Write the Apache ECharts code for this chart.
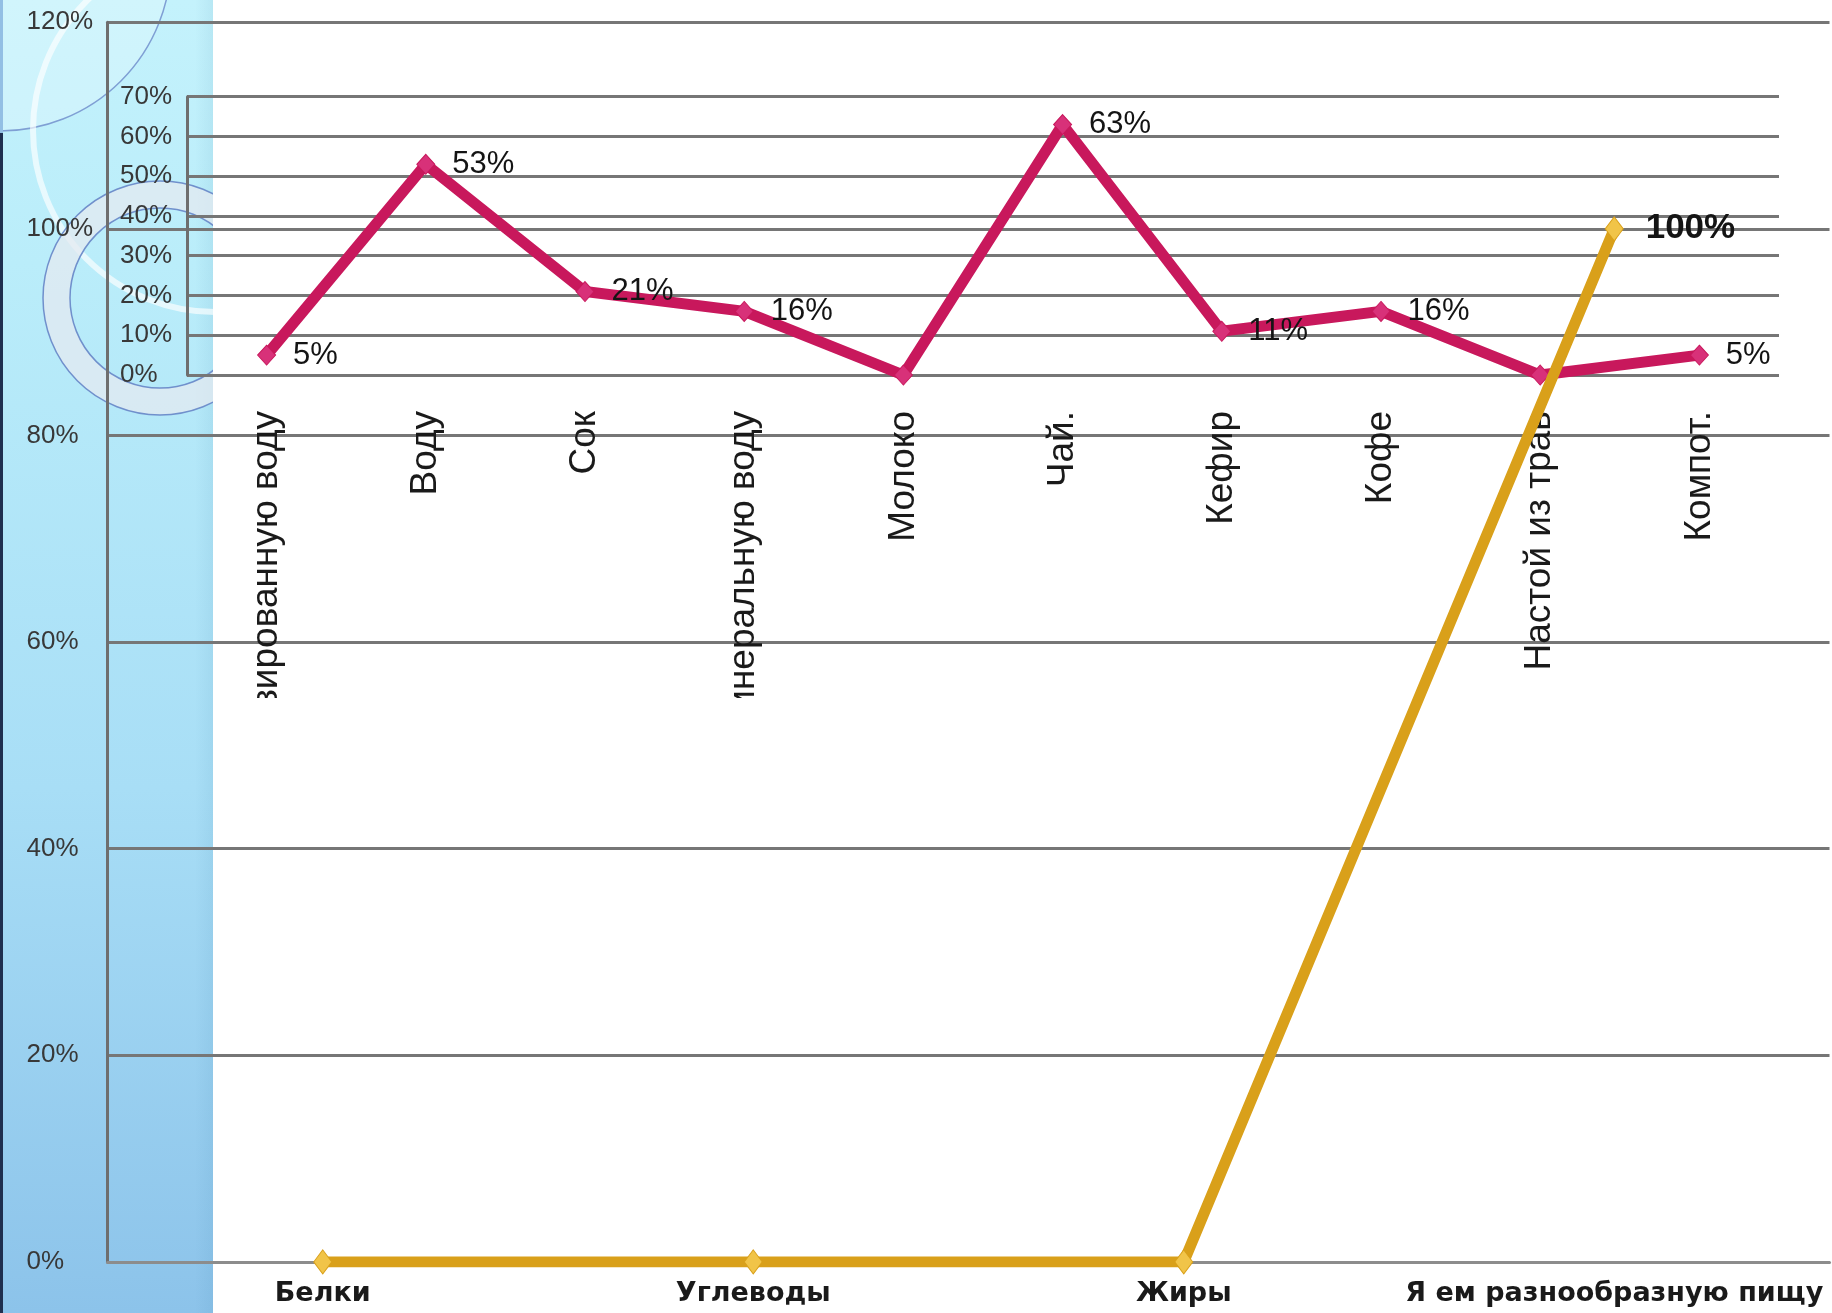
<!DOCTYPE html>
<html><head><meta charset="utf-8">
<script src="https://cdn.jsdelivr.net/npm/echarts@6/dist/echarts.min.js"></script>
<style>html,body{margin:0;padding:0;background:#fff}#c{width:1832px;height:1313px}</style>
</head><body><div id="c"></div>
<script>
// Background chart (food)
const foodCategories = ['Белки', 'Углеводы', 'Жиры', 'Я ем разнообразную пищу'];
const foodValues = [0, 0, 0, 100];
const foodTickMax = 120;
const foodTickStep = 20;
// Overlay chart (drinks)
const drinkCategories = ['Газированную воду', 'Воду', 'Сок', 'Минеральную воду', 'Молоко', 'Чай.', 'Кефир', 'Кофе', 'Настой из трав', 'Компот.'];
const drinkValues = [5, 53, 21, 16, 0, 63, 11, 16, 0, 5];
const drinkTickMax = 70;
const drinkTickStep = 10;

const GRID_COLOR = '#767676';
const chart = echarts.init(document.getElementById('c'), null, {renderer: 'canvas'});
const pct = v => v + '%';

chart.setOption({
  animation: false,
  backgroundColor: '#ffffff',
  graphic: [
    {type: 'rect', z: -20, shape: {x: 0, y: 0, width: 213, height: 1313},
     style: {fill: new echarts.graphic.LinearGradient(0, 0, 0, 1, [
       {offset: 0, color: '#c4f2fc'}, {offset: 0.2, color: '#baedfa'},
       {offset: 0.6, color: '#a8def6'}, {offset: 1, color: '#8cc3ea'}])}},
    {type: 'rect', z: -19, shape: {x: 195, y: 0, width: 18, height: 1313},
     style: {fill: new echarts.graphic.LinearGradient(0, 0, 1, 0, [
       {offset: 0, color: 'rgba(40,110,150,0)'}, {offset: 1, color: 'rgba(40,110,150,0.08)'}])}},
    {type: 'circle', z: -19, shape: {cx: 0, cy: -40, r: 171},
     style: {fill: 'rgba(255,255,255,0.22)', stroke: '#7f9fd4', lineWidth: 1.5}},
    {type: 'circle', z: -19, shape: {cx: 215, cy: 130, r: 182},
     style: {fill: 'none', stroke: 'rgba(255,255,255,0.65)', lineWidth: 6}},
    {type: 'ring', z: -19, shape: {cx: 160, cy: 298, r: 117, r0: 90},
     style: {fill: 'rgba(228,234,240,0.75)', stroke: '#7090cc', lineWidth: 1.5}},
    {type: 'rect', z: -18, shape: {x: 213, y: 0, width: 320, height: 520}, style: {fill: '#ffffff'}},
    {type: 'rect', z: -18, shape: {x: 0, y: 0, width: 3, height: 133}, style: {fill: '#93bfe4'}},
    {type: 'rect', z: -18, shape: {x: 0, y: 133, width: 3, height: 1180}, style: {fill: '#1f2f4f'}},
    // clipping strip for the overlay chart's category labels
    {type: 'rect', z: 5, shape: {x: 214, y: 698, width: 1618, height: 120}, style: {fill: '#ffffff'}}
  ],
  grid: [
    {left: 107.5, top: 22.2, width: 1722, height: 1239.7, containLabel: false},
    {left: 187, top: 96.7, width: 1592, height: 278.3, containLabel: false}
  ],
  xAxis: [
    {type: 'category', gridIndex: 0, data: foodCategories, boundaryGap: true,
     axisLine: {show: true, lineStyle: {color: '#8c8c8c', width: 3}},
     axisTick: {show: false}, splitLine: {show: false},
     axisLabel: {interval: 0, margin: 19, color: '#1a1a1a', fontFamily: 'DejaVu Sans',
                 fontWeight: 'bold', fontSize: 27}},
    {type: 'category', gridIndex: 1, data: drinkCategories, boundaryGap: true,
     axisLine: {show: false}, axisTick: {show: false}, splitLine: {show: false},
     axisLabel: {interval: 0, rotate: 90, margin: 36, color: '#1a1a1a',
                 fontFamily: 'Liberation Sans', fontSize: 37}}
  ],
  yAxis: [
    {type: 'value', gridIndex: 0, min: 0, max: foodTickMax, interval: foodTickStep,
     axisLine: {show: true, lineStyle: {color: '#6e6e6e', width: 3}},
     axisTick: {show: false},
     splitLine: {show: true, lineStyle: {color: GRID_COLOR, width: 3}},
     axisLabel: {formatter: pct, align: 'left', margin: 81, color: '#383838',
                 fontFamily: 'Liberation Sans', fontSize: 26}},
    {type: 'value', gridIndex: 1, min: 0, max: drinkTickMax, interval: drinkTickStep,
     axisLine: {show: true, lineStyle: {color: '#6e6e6e', width: 3}},
     axisTick: {show: false},
     splitLine: {show: true, lineStyle: {color: GRID_COLOR, width: 3}},
     axisLabel: {formatter: pct, align: 'left', margin: 67, color: '#383838',
                 fontFamily: 'Liberation Sans', fontSize: 26}}
  ],
  series: [
    {type: 'line', name: 'drinks', xAxisIndex: 1, yAxisIndex: 1, data: drinkValues, z: 2,
     lineStyle: {color: '#c8185c', width: 11, join: 'miter'},
     symbol: 'diamond', symbolSize: [18, 20], showAllSymbol: true,
     itemStyle: {color: '#d83179', borderColor: '#c8185c', borderWidth: 1},
     label: {show: true, position: 'right', distance: 17, color: '#141414',
             fontFamily: 'Liberation Sans', fontSize: 31,
             formatter: p => p.value === 0 ? '' : p.value + '%'}},
    {type: 'line', name: 'food', xAxisIndex: 0, yAxisIndex: 0, data: foodValues, z: 10,
     lineStyle: {color: '#d9a01a', width: 11, join: 'miter'},
     symbol: 'diamond', symbolSize: [18, 24], showAllSymbol: true,
     itemStyle: {color: '#f1c448', borderColor: '#d9a01a', borderWidth: 1},
     label: {show: true, position: 'right', distance: 22, color: '#141414',
             fontFamily: 'Liberation Sans', fontWeight: 'bold', fontSize: 35,
             formatter: p => p.value === 0 ? '' : p.value + '%'}}
  ]
});
</script></body></html>
